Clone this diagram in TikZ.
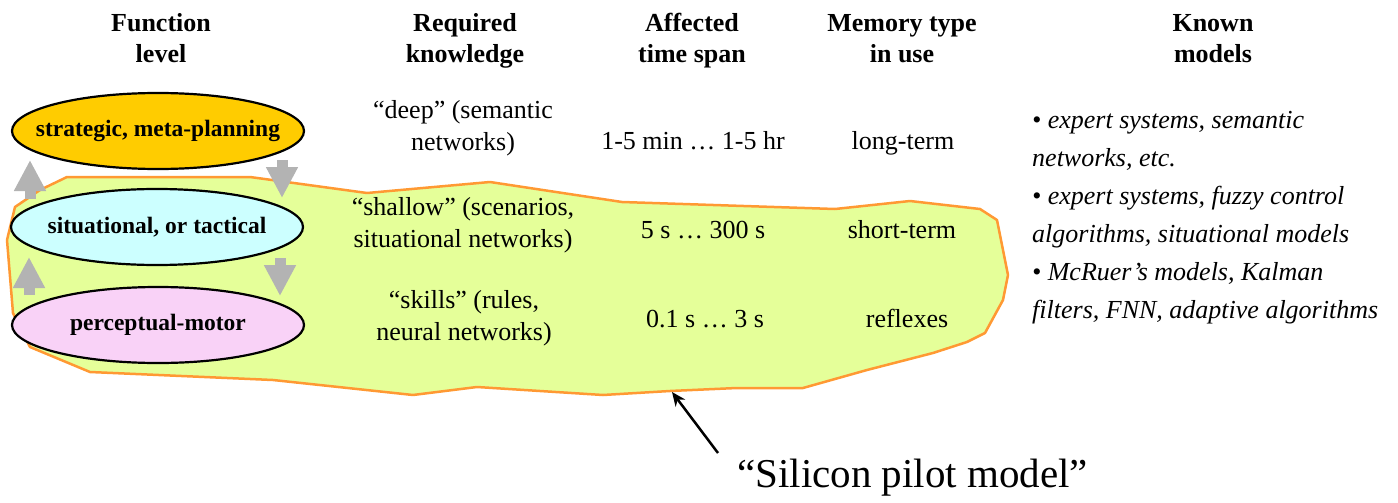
\documentclass[tikz,border=0pt]{standalone}
\usepackage{fontspec}
\setmainfont{Liberation Serif}
\usetikzlibrary{shapes.geometric,arrows.meta}
\definecolor{goldfill}{HTML}{FFCC00}
\definecolor{cyanfill}{HTML}{CCFFFF}
\definecolor{pinkfill}{HTML}{F9D2F7}
\definecolor{blobfill}{HTML}{E5FF99}
\definecolor{bloborange}{HTML}{FF9933}
\definecolor{arrowgray}{HTML}{B3B3B3}
\begin{document}
\begin{tikzpicture}[x=1pt,y=-1pt,
  hdr/.style={font=\fontsize{26}{31}\selectfont\bfseries, align=center, anchor=base, inner sep=0pt},
  body/.style={font=\fontsize{26}{32}\selectfont, align=center, anchor=base, inner sep=0pt},
  level/.style={ellipse, draw=black, line width=2.2pt, minimum width=292pt, minimum height=76pt,
    inner xsep=-30pt, inner ysep=0pt, font=\fontsize{23.5}{28}\selectfont\bfseries},
  blockarrow/.style={draw=arrowgray, line width=11pt, -{Triangle[width=30pt,length=31pt]}},
  pointer/.style={draw=black, line width=2.5pt, -{Stealth[length=14pt,width=12pt]}}
]
\useasboundingbox (0,0) rectangle (1398,503);

% region covered by the silicon pilot model
\draw[fill=blobfill, draw=bloborange, line width=2.5pt, line join=round]
  (67,177) -- (250,177) -- (367,193) -- (490,182) -- (622,202) -- (835,209)
  -- (910,201) -- (980,209) -- (997,220) -- (1008,275) -- (1003,300) -- (985,333)
  -- (967,342) -- (933,353) -- (867,370) -- (803,388) -- (737,388) -- (670,391)
  -- (603,395) -- (477,387) -- (413,395) -- (273,380) -- (90,372) -- (30,347)
  -- (13,313) -- (7,240) -- (15,207) -- (40,190) -- cycle;

% column headers (anchored on the baseline of their last line)
\node[hdr] (hfun) at (161,63) {Function\\level};
\node[hdr] (hknow) at (465,63) {Required\\knowledge};
\node[hdr] (htime) at (692,63) {Affected\\time span};
\node[hdr] (hmem) at (902,63) {Memory type\\in use};
\node[hdr] (hmod) at (1213,63) {Known\\models};

% function levels
\node[level, fill=goldfill] (strat) at (158,131) {strategic, meta-planning};
\node[level, fill=cyanfill] (situ) at (157,227) {situational, or tactical};
\node[level, fill=pinkfill] (perc) at (158,325) {perceptual-motor};

% transitions between levels
\coordinate (u1a) at (30,199); \coordinate (u1b) at (30,160);
\coordinate (d1a) at (282,160); \coordinate (d1b) at (282,198);
\coordinate (u2a) at (29,295); \coordinate (u2b) at (29,257);
\coordinate (d2a) at (280,258); \coordinate (d2b) at (280,296);
\draw[blockarrow] (u1a) -- (u1b);
\draw[blockarrow] (d1a) -- (d1b);
\draw[blockarrow] (u2a) -- (u2b);
\draw[blockarrow] (d2a) -- (d2b);

% strategic row
\node[body] (k1) at (463,150) {“deep” (semantic\\networks)};
\node[body] (t1) at (693,149) {1-5 min … 1-5 hr};
\node[body] (m1) at (903,149) {long-term};

% tactical row
\node[body] (k2) at (463,247) {“shallow” (scenarios,\\situational networks)};
\node[body] (t2) at (703,238) {5 s … 300 s};
\node[body] (m2) at (902,238) {short-term};

% perceptual-motor row
\node[body] (k3) at (464,340) {“skills” (rules,\\neural networks)};
\node[body] (t3) at (705,327) {0.1 s … 3 s};
\node[body] (m3) at (907,327) {reflexes};

% known models
\node[font=\fontsize{26}{38}\selectfont\itshape, align=left, anchor=base west, inner sep=0pt] (models)
  at (1032,318) {• expert systems, semantic\\networks, etc.\\• expert systems, fuzzy control\\algorithms, situational models\\• McRuer’s models, Kalman\\filters, FNN, adaptive algorithms};

% label of the shaded region
\node[font=\fontsize{41}{48}\selectfont, anchor=base west, inner sep=0pt] (spm) at (737,487) {“Silicon pilot model”};
\coordinate (ptail) at (718,453);
\coordinate (ptip) at (672,392);
\draw[pointer] (ptail) -- (ptip);
\end{tikzpicture}
\end{document}
